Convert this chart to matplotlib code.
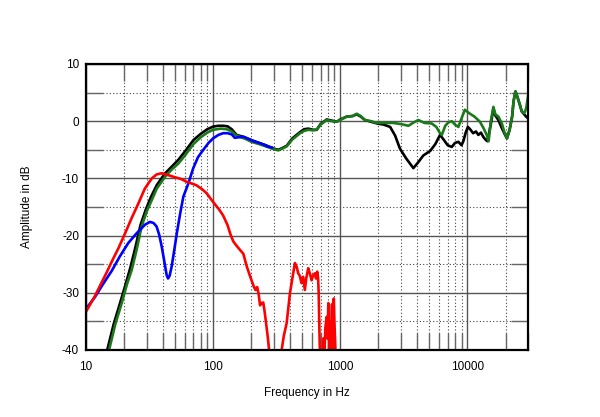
import numpy as np
import matplotlib
matplotlib.use("Agg")
from matplotlib import pyplot as plt
from matplotlib.ticker import LogLocator, NullFormatter, FixedLocator

plt.rcParams['font.family'] = ['Liberation Sans', 'DejaVu Sans']
plt.rcParams['axes.unicode_minus'] = False

# red curve
red_f = [10, 11.8, 13, 14.5, 15.9, 18, 20.3, 23, 25.8, 29, 32.9, 36, 39.4, 44, 50, 56, 62, 68, 74, 82,
         89, 96, 104, 112, 120, 130, 137, 144, 152, 160, 173, 184, 196, 208, 215, 222, 228, 234, 240, 248,
         255, 263, 270, 277, 285, 300, 320, 340, 346, 360, 379, 402, 420, 440, 455, 467, 480, 496, 510, 527,
         540, 560, 575, 595, 610, 632, 645, 659, 670, 677, 685, 693, 705, 720, 735, 750, 765, 783, 795, 806,
         818, 830, 840, 852, 862, 870, 880, 890, 900, 920, 935]
red_db = [-33.3, -30.5, -28.6, -26.5, -24.6, -22.2, -19.6, -16.8, -14.4, -11.8, -10, -9.3, -9.1, -9.4, -9.8, -10.1, -10.6, -10.9, -11.2, -11.9,
          -12.6, -13.6, -14.6, -15.5, -16.5, -18.2, -19.8, -21, -21.7, -22.3, -23.2, -25.4, -27.2, -28.8, -29.5, -29, -30.2, -32.2, -31.8, -31.7,
          -33.5, -35.9, -38, -40.5, -44, -46, -46, -43, -40, -37.5, -35.3, -30.1, -27.5, -24.8, -25.5, -26.6, -27, -28.3, -27.2, -29.5,
          -27.5, -25.7, -26.5, -27.8, -27, -26.6, -27.5, -26.3, -27.5, -30.1, -36, -41, -45, -42, -38, -40.5, -36, -34.2, -38, -31.8,
          -40, -35, -42, -35.9, -32, -40, -33, -31, -35, -41, -46]

# blue curve
blue_f = [10, 11.8, 13.5, 15.9, 18.5, 21.5, 25, 29.1, 31.8, 34, 35.9, 37.6, 39.4, 41.3, 43.1, 44.2, 45.5, 47.2, 49.5, 51.8,
          55, 58.3, 63.8, 69.8, 76, 83.7, 92, 100, 110, 120, 130, 140, 148, 160, 173, 190, 208, 230, 250, 265, 290]
blue_db = [-32.8, -30.7, -28.6, -26.2, -23.6, -21.3, -19.6, -18.1, -17.6, -17.8, -18.4, -19.8, -21.9, -24.5, -26.9, -27.5, -27, -25.4, -22.5, -19.6,
           -16.2, -13.2, -10.9, -8.2, -6.3, -5, -3.8, -3, -2.4, -2.1, -2.1, -2.3, -2.9, -2.8, -2.7, -3.1, -3.5, -3.8, -4.1, -4.4, -4.6]

# black curve
black_f = [14.5, 16.5, 18.7, 20.5, 22.4, 24.5, 26.8, 29.5, 32.5, 36, 41.5, 47, 53, 60, 70, 80, 90, 100, 110, 120,
           130, 140, 153, 165, 180, 200, 230, 260, 300, 326, 350, 379, 420, 483, 520, 561, 610, 653, 700, 783,
           860, 938, 1000, 1123, 1250, 1348, 1450, 1567, 1750, 1950, 2200, 2470, 2700, 2950, 3300, 3760, 4100, 4500, 5100, 5600,
           6095, 6500, 7000, 7540, 8000, 8500, 9000, 9300, 9700, 10100, 10600, 11100, 11700, 12200, 12800, 13400, 14000, 14400, 15300, 16030,
           16600, 17550, 18500, 19600, 20500, 21500, 22500, 23100, 23900, 24800, 25700, 26800, 28000, 29000, 30000]
black_db = [-40.5, -35.5, -31.5, -28.5, -25.5, -22, -18.2, -15.5, -13.2, -11.2, -9.2, -8, -6.8, -5.3, -3.3, -2.2, -1.4, -0.95, -0.8, -0.8,
            -0.9, -1.4, -2.4, -2.6, -2.9, -3.3, -3.8, -4.2, -4.8, -5.0, -4.7, -4.3, -3.0, -1.9, -1.4, -1.3, -1.5, -1.5, -0.5, 0.3,
            0.1, -0.1, 0.3, 0.8, 0.9, 1.2, 0.8, 0.2, -0.1, -0.4, -0.6, -1.0, -2.5, -4.8, -6.5, -8.2, -7.2, -6, -5.2, -4,
            -2.4, -3.2, -4.2, -4.5, -3.8, -3.6, -4.2, -3.5, -2.0, -1.0, -1.5, -2.1, -1.8, -2.4, -2.0, -2.8, -3.3, -3.5, -0.5, 2.2,
            1.0, 0.2, -1.0, -2.2, -3, -1.5, 0.8, 3.5, 5.2, 4.2, 3.1, 1.7, 1.2, 0.8, 0.5]

# green curve
green_f = [15, 17, 19.1, 21, 22.9, 25, 27.4, 30, 32.9, 36, 41.9, 47, 53.3, 60, 70, 80, 90, 100, 115, 128,
           140, 150, 165, 180, 200, 230, 260, 300, 326, 350, 379, 420, 483, 520, 561, 610, 653, 700, 783, 860,
           938, 1000, 1123, 1250, 1348, 1450, 1567, 1750, 1936, 2200, 2617, 3000, 3436, 3800, 4118, 4600, 5248, 5700, 6095, 6300,
           6700, 7100, 7540, 8000, 8500, 9000, 9560, 10330, 11380, 12560, 13400, 14200, 14700, 15300, 16030, 16600, 17550, 18690, 19600, 20500,
           21500, 22500, 23100, 23900, 24800, 25700, 26800, 28000, 29000, 30000]
green_db = [-40.5, -35.5, -31.8, -28.5, -26, -22.5, -18.4, -15.8, -13.8, -11.8, -9.7, -8.5, -7.4, -6, -4, -2.8, -2, -1.5, -1.3, -1.4,
            -1.8, -2.4, -2.8, -3.1, -3.6, -4.0, -4.4, -4.9, -5.1, -4.8, -4.4, -3.2, -2.1, -1.7, -1.5, -1.6, -1.5, -0.6, 0.2, 0,
            -0.1, 0.2, 0.8, 0.9, 1.3, 0.9, 0.2, 0, -0.3, -0.3, -0.3, -0.5, -0.8, -0.2, 0.2, -0.3, -0.4, -1, -2.1, -2.4,
            -0.8, -0.2, 0, -0.6, -1, 0.5, 2, 1.4, 0.8, -0.1, -1.2, -2.4, -3.5, 0, 2.5, 1.2, 0.8, -0.4, -2, -3,
            -1.5, 0.8, 3.5, 5.2, 4.2, 3.1, 1.7, 1.4, 2.2, 4.3]

xticks = [10, 100, 1000, 10000]
xtick_labels = ['10', '100', '1000', '10000']
yticks = [-40, -30, -20, -10, 0, 10]
yticks_minor = [-35, -25, -15, -5, 5]

fig = plt.figure(figsize=(6, 4.17), dpi=100)
ax = fig.add_axes([86/600, 1-350/417, 442/600, 286/417])

ax.plot(black_f, black_db, color='black', lw=1.9, solid_joinstyle='round')
ax.plot(green_f, green_db, color='#1a7a1a', lw=1.9, solid_joinstyle='round')
ax.plot(blue_f, blue_db, color='#0000ff', lw=1.9, solid_joinstyle='round')
ax.plot(red_f, red_db, color='#ff0000', lw=1.9, solid_joinstyle='round')

ax.set_xscale('log')
ax.set_xlim(10, 30000)
ax.set_ylim(-40, 10)
ax.set_xticks(xticks)
ax.set_xticklabels(xtick_labels)
ax.xaxis.set_minor_locator(LogLocator(base=10, subs=range(2, 10)))
ax.xaxis.set_minor_formatter(NullFormatter())
ax.set_yticks(yticks)
ax.yaxis.set_minor_locator(FixedLocator(yticks_minor))

ax.set_axisbelow(True)
ax.grid(which='major', color='#555555', lw=1.0, ls='-')
ax.grid(which='minor', color='#444444', lw=0.8, ls=(0, (1, 2)))
ax.tick_params(which='both', direction='in', top=True, right=True, color='#666666', width=1.0)
ax.tick_params(which='major', length=0)
ax.tick_params(which='minor', length=12)
ax.tick_params(axis='x', which='major', pad=8, labelsize=8.5)
ax.tick_params(axis='y', which='major', pad=5, labelsize=8.5)

for s in ax.spines.values():
    s.set_linewidth(1.6)
    s.set_color('black')

ax.set_xlabel('Frequency in Hz', fontsize=8.5)
ax.set_ylabel('Amplitude in dB', fontsize=8.5)
ax.xaxis.set_label_coords(0.5, -0.13)
ax.yaxis.set_label_coords(-0.12, 0.5)

fig.savefig('out.png', dpi=100)
